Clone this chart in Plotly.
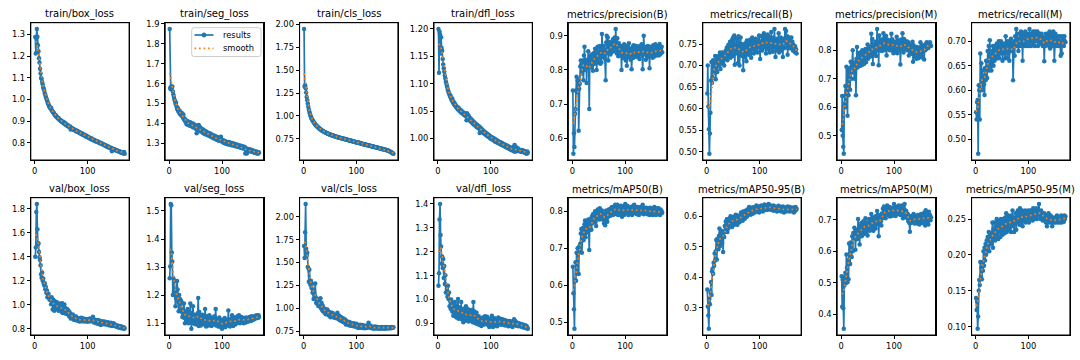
import numpy as np
import plotly.graph_objects as go

# ---------------- data ----------------
titles = ["train/box_loss", "train/seg_loss", "train/cls_loss", "train/dfl_loss",
          "metrics/precision(B)", "metrics/recall(B)", "metrics/precision(M)", "metrics/recall(M)",
          "val/box_loss", "val/seg_loss", "val/cls_loss", "val/dfl_loss",
          "metrics/mAP50(B)", "metrics/mAP50-95(B)", "metrics/mAP50(M)", "metrics/mAP50-95(M)"]
legend_labels = ["results", "smooth"]

train_box_loss = [
 1.288, 1.212, 1.283, 1.325, 1.289, 1.250, 1.222, 1.190, 1.170, 1.142,
 1.120, 1.099, 1.095, 1.080, 1.070, 1.055, 1.048, 1.040, 1.028, 1.022,
 1.012, 1.005, 0.998, 0.991, 0.982, 0.978, 0.970, 0.966, 0.962, 0.958,
 0.962, 0.951, 0.948, 0.944, 0.940, 0.938, 0.932, 0.930, 0.925, 0.927,
 0.921, 0.918, 0.916, 0.913, 0.915, 0.909, 0.906, 0.905, 0.901, 0.903,
 0.899, 0.896, 0.894, 0.897, 0.890, 0.888, 0.893, 0.885, 0.884, 0.886,
 0.880, 0.878, 0.881, 0.876, 0.874, 0.872, 0.875, 0.862, 0.870, 0.866,
 0.868, 0.864, 0.861, 0.863, 0.859, 0.857, 0.860, 0.855, 0.853, 0.856,
 0.851, 0.852, 0.848, 0.850, 0.846, 0.844, 0.847, 0.842, 0.840, 0.843,
 0.838, 0.839, 0.835, 0.837, 0.833, 0.831, 0.834, 0.829, 0.827, 0.830,
 0.825, 0.826, 0.822, 0.824, 0.820, 0.818, 0.821, 0.816, 0.817, 0.814,
 0.815, 0.811, 0.813, 0.809, 0.810, 0.807, 0.808, 0.805, 0.806, 0.803,
 0.804, 0.800, 0.802, 0.798, 0.799, 0.796, 0.797, 0.794, 0.795, 0.791,
 0.792, 0.789, 0.790, 0.786, 0.788, 0.784, 0.785, 0.781, 0.783, 0.779,
 0.780, 0.777, 0.778, 0.775, 0.776, 0.762, 0.773, 0.771, 0.772, 0.769,
 0.770, 0.767, 0.768, 0.765, 0.766, 0.763, 0.764, 0.761, 0.762, 0.759,
 0.760, 0.757, 0.758, 0.755, 0.756, 0.753, 0.754, 0.751, 0.758, 0.750]

train_seg_loss = [
 1.875, 1.578, 1.572, 1.585, 1.580, 1.586, 1.560, 1.545, 1.532, 1.520,
 1.512, 1.498, 1.505, 1.485, 1.472, 1.478, 1.462, 1.468, 1.455, 1.448,
 1.460, 1.445, 1.440, 1.452, 1.438, 1.430, 1.445, 1.420, 1.425, 1.412,
 1.418, 1.405, 1.395, 1.412, 1.402, 1.392, 1.408, 1.398, 1.388, 1.405,
 1.395, 1.385, 1.400, 1.390, 1.380, 1.398, 1.386, 1.378, 1.392, 1.382,
 1.372, 1.350, 1.388, 1.375, 1.368, 1.392, 1.372, 1.362, 1.380, 1.366,
 1.358, 1.372, 1.360, 1.352, 1.368, 1.355, 1.347, 1.362, 1.350, 1.344,
 1.358, 1.346, 1.340, 1.352, 1.342, 1.336, 1.350, 1.338, 1.332, 1.345,
 1.335, 1.328, 1.340, 1.330, 1.324, 1.338, 1.326, 1.320, 1.334, 1.322,
 1.316, 1.330, 1.318, 1.312, 1.328, 1.315, 1.320, 1.332, 1.310, 1.318,
 1.306, 1.315, 1.303, 1.312, 1.300, 1.310, 1.298, 1.308, 1.296, 1.305,
 1.302, 1.294, 1.306, 1.300, 1.292, 1.303, 1.296, 1.290, 1.301, 1.294,
 1.288, 1.298, 1.292, 1.286, 1.295, 1.289, 1.284, 1.293, 1.287, 1.282,
 1.290, 1.284, 1.280, 1.288, 1.282, 1.277, 1.286, 1.280, 1.275, 1.283,
 1.277, 1.272, 1.281, 1.248, 1.274, 1.266, 1.248, 1.272, 1.268, 1.262,
 1.270, 1.265, 1.260, 1.268, 1.262, 1.257, 1.265, 1.259, 1.254, 1.262,
 1.256, 1.251, 1.260, 1.254, 1.249, 1.257, 1.252, 1.247, 1.255, 1.252]

train_cls_loss = [
 1.950, 1.320, 1.335, 1.302, 1.255, 1.205, 1.170, 1.135, 1.100, 1.070,
 1.045, 1.025, 1.005, 0.990, 0.975, 0.962, 0.952, 0.940, 0.932, 0.925,
 0.917, 0.906, 0.903, 0.893, 0.891, 0.881, 0.879, 0.870, 0.869, 0.860,
 0.860, 0.851, 0.849, 0.843, 0.841, 0.834, 0.834, 0.828, 0.827, 0.821,
 0.822, 0.815, 0.815, 0.810, 0.810, 0.804, 0.805, 0.799, 0.800, 0.795,
 0.796, 0.790, 0.791, 0.786, 0.787, 0.782, 0.783, 0.778, 0.779, 0.774,
 0.775, 0.770, 0.772, 0.767, 0.768, 0.763, 0.765, 0.760, 0.761, 0.757,
 0.758, 0.753, 0.755, 0.750, 0.752, 0.747, 0.749, 0.744, 0.746, 0.741,
 0.742, 0.738, 0.739, 0.735, 0.736, 0.732, 0.733, 0.729, 0.730, 0.726,
 0.727, 0.722, 0.724, 0.719, 0.721, 0.716, 0.718, 0.713, 0.715, 0.710,
 0.711, 0.708, 0.710, 0.705, 0.703, 0.705, 0.700, 0.699, 0.697, 0.698,
 0.694, 0.693, 0.691, 0.692, 0.688, 0.687, 0.685, 0.686, 0.682, 0.681,
 0.680, 0.678, 0.679, 0.675, 0.674, 0.672, 0.673, 0.669, 0.668, 0.666,
 0.667, 0.663, 0.662, 0.660, 0.661, 0.657, 0.656, 0.654, 0.655, 0.651,
 0.650, 0.648, 0.649, 0.645, 0.644, 0.642, 0.643, 0.639, 0.638, 0.636,
 0.637, 0.633, 0.632, 0.630, 0.631, 0.627, 0.626, 0.624, 0.622, 0.620,
 0.618, 0.615, 0.612, 0.609, 0.606, 0.602, 0.598, 0.594, 0.590, 0.586]

train_dfl_loss = [
 1.200, 1.120, 1.195, 1.190, 1.155, 1.185, 1.165, 1.160, 1.145, 1.135,
 1.128, 1.122, 1.115, 1.110, 1.104, 1.100, 1.096, 1.092, 1.088, 1.085,
 1.082, 1.080, 1.076, 1.078, 1.072, 1.070, 1.073, 1.066, 1.068, 1.063,
 1.065, 1.060, 1.062, 1.058, 1.059, 1.055, 1.057, 1.053, 1.056, 1.051,
 1.053, 1.049, 1.052, 1.047, 1.050, 1.046, 1.048, 1.044, 1.047, 1.043,
 1.045, 1.041, 1.044, 1.033, 1.046, 1.040, 1.036, 1.042, 1.034, 1.038,
 1.032, 1.036, 1.030, 1.034, 1.028, 1.032, 1.026, 1.030, 1.025, 1.028,
 1.023, 1.026, 1.021, 1.025, 1.020, 1.023, 1.018, 1.022, 1.010, 1.020,
 1.015, 1.018, 1.013, 1.016, 1.011, 1.014, 1.009, 1.012, 1.008, 1.011,
 1.006, 1.009, 1.005, 1.008, 1.003, 1.006, 1.002, 1.005, 1.000, 1.003,
 0.999, 1.002, 0.998, 1.001, 0.997, 1.000, 0.995, 0.999, 0.994, 0.997,
 0.993, 0.996, 0.992, 0.995, 0.991, 0.994, 0.990, 0.993, 0.989, 0.992,
 0.988, 0.991, 0.987, 0.990, 0.986, 0.989, 0.985, 0.988, 0.984, 0.987,
 0.983, 0.986, 0.982, 0.985, 0.981, 0.984, 0.980, 0.983, 0.979, 0.982,
 0.978, 0.981, 0.985, 0.976, 0.988, 0.980, 0.976, 0.984, 0.979, 0.977,
 0.982, 0.978, 0.980, 0.977, 0.979, 0.976, 0.978, 0.975, 0.979, 0.976,
 0.978, 0.975, 0.977, 0.974, 0.976, 0.973, 0.975, 0.972, 0.976, 0.974]

precision_B = [
 0.740, 0.555, 0.615, 0.575, 0.672, 0.685, 0.740, 0.780, 0.735, 0.770,
 0.772, 0.622, 0.745, 0.760, 0.810, 0.828, 0.815, 0.790, 0.812, 0.828,
 0.770, 0.842, 0.868, 0.800, 0.805, 0.830, 0.762, 0.820, 0.810, 0.855,
 0.818, 0.686, 0.840, 0.808, 0.832, 0.845, 0.812, 0.828, 0.798, 0.835,
 0.850, 0.818, 0.862, 0.825, 0.858, 0.800, 0.840, 0.868, 0.822, 0.852,
 0.835, 0.870, 0.818, 0.850, 0.822, 0.905, 0.862, 0.838, 0.870, 0.845,
 0.858, 0.832, 0.770, 0.880, 0.900, 0.850, 0.895, 0.828, 0.878, 0.860,
 0.882, 0.845, 0.870, 0.852, 0.878, 0.862, 0.890, 0.855, 0.872, 0.895,
 0.862, 0.920, 0.880, 0.848, 0.893, 0.868, 0.840, 0.878, 0.855, 0.870,
 0.842, 0.868, 0.800, 0.862, 0.870, 0.835, 0.858, 0.875, 0.840, 0.860,
 0.828, 0.870, 0.812, 0.855, 0.865, 0.838, 0.878, 0.845, 0.862, 0.830,
 0.858, 0.802, 0.848, 0.868, 0.835, 0.872, 0.850, 0.840, 0.865, 0.845,
 0.870, 0.838, 0.858, 0.845, 0.845, 0.862, 0.832, 0.870, 0.848, 0.858,
 0.875, 0.842, 0.802, 0.850, 0.900, 0.862, 0.845, 0.858, 0.830, 0.868,
 0.852, 0.838, 0.870, 0.848, 0.860, 0.805, 0.855, 0.842, 0.868, 0.850,
 0.862, 0.836, 0.872, 0.845, 0.858, 0.840, 0.875, 0.850, 0.845, 0.862,
 0.848, 0.870, 0.842, 0.858, 0.876, 0.845, 0.862, 0.850, 0.868, 0.852]

recall_B = [
 0.635, 0.700, 0.605, 0.552, 0.495, 0.542, 0.590, 0.665, 0.708, 0.660,
 0.672, 0.712, 0.682, 0.695, 0.705, 0.722, 0.668, 0.700, 0.712, 0.685,
 0.718, 0.722, 0.700, 0.712, 0.730, 0.692, 0.718, 0.728, 0.705, 0.730,
 0.712, 0.725, 0.700, 0.728, 0.715, 0.735, 0.720, 0.742, 0.712, 0.735,
 0.748, 0.722, 0.740, 0.755, 0.718, 0.745, 0.728, 0.760, 0.722, 0.765,
 0.740, 0.770, 0.702, 0.748, 0.728, 0.762, 0.735, 0.752, 0.705, 0.768,
 0.742, 0.700, 0.745, 0.765, 0.728, 0.750, 0.722, 0.740, 0.689, 0.735,
 0.748, 0.720, 0.752, 0.735, 0.710, 0.758, 0.738, 0.745, 0.725, 0.755,
 0.732, 0.760, 0.742, 0.718, 0.752, 0.765, 0.738, 0.748, 0.728, 0.760,
 0.745, 0.735, 0.762, 0.740, 0.752, 0.730, 0.758, 0.745, 0.770, 0.750,
 0.715, 0.755, 0.740, 0.768, 0.735, 0.760, 0.748, 0.775, 0.742, 0.762,
 0.770, 0.728, 0.755, 0.745, 0.772, 0.738, 0.768, 0.750, 0.730, 0.762,
 0.745, 0.778, 0.740, 0.758, 0.732, 0.765, 0.750, 0.785, 0.742, 0.720,
 0.758, 0.740, 0.762, 0.735, 0.748, 0.775, 0.730, 0.755, 0.742, 0.765,
 0.735, 0.758, 0.745, 0.720, 0.762, 0.740, 0.752, 0.785, 0.760, 0.780,
 0.742, 0.768, 0.725, 0.755, 0.745, 0.765, 0.740, 0.758, 0.750, 0.765,
 0.745, 0.755, 0.735, 0.748, 0.740, 0.732, 0.745, 0.730, 0.738, 0.728]

precision_M = [
 0.520, 0.640, 0.500, 0.462, 0.437, 0.612, 0.640, 0.675, 0.600, 0.742,
 0.660, 0.570, 0.730, 0.642, 0.700, 0.738, 0.662, 0.760, 0.700, 0.728,
 0.745, 0.800, 0.722, 0.752, 0.700, 0.742, 0.758, 0.642, 0.770, 0.812,
 0.740, 0.790, 0.752, 0.778, 0.745, 0.792, 0.760, 0.782, 0.748, 0.800,
 0.768, 0.795, 0.752, 0.788, 0.770, 0.805, 0.758, 0.792, 0.775, 0.820,
 0.770, 0.800, 0.782, 0.812, 0.778, 0.795, 0.858, 0.780, 0.840, 0.752,
 0.820, 0.785, 0.810, 0.795, 0.830, 0.780, 0.812, 0.875, 0.800, 0.825,
 0.748, 0.852, 0.800, 0.830, 0.812, 0.838, 0.798, 0.825, 0.805, 0.860,
 0.818, 0.842, 0.800, 0.828, 0.850, 0.782, 0.838, 0.815, 0.830, 0.805,
 0.822, 0.800, 0.835, 0.812, 0.858, 0.800, 0.838, 0.815, 0.790, 0.825,
 0.808, 0.830, 0.795, 0.820, 0.848, 0.790, 0.828, 0.812, 0.835, 0.800,
 0.825, 0.750, 0.820, 0.838, 0.805, 0.860, 0.820, 0.792, 0.840, 0.815,
 0.828, 0.805, 0.815, 0.832, 0.800, 0.818, 0.828, 0.782, 0.808, 0.820,
 0.795, 0.812, 0.788, 0.805, 0.830, 0.760, 0.818, 0.795, 0.808, 0.780,
 0.800, 0.770, 0.812, 0.790, 0.805, 0.772, 0.810, 0.788, 0.800, 0.828,
 0.782, 0.802, 0.775, 0.818, 0.795, 0.808, 0.768, 0.812, 0.800, 0.822,
 0.805, 0.828, 0.812, 0.820, 0.808, 0.825, 0.815, 0.828, 0.818, 0.815]

recall_M = [
 0.555, 0.540, 0.575, 0.580, 0.470, 0.610, 0.600, 0.540, 0.675, 0.600,
 0.655, 0.620, 0.640, 0.600, 0.630, 0.612, 0.590, 0.645, 0.620, 0.660,
 0.640, 0.625, 0.680, 0.650, 0.690, 0.640, 0.702, 0.650, 0.665, 0.640,
 0.672, 0.680, 0.690, 0.650, 0.685, 0.660, 0.672, 0.690, 0.665, 0.695,
 0.665, 0.690, 0.672, 0.700, 0.665, 0.690, 0.680, 0.700, 0.675, 0.690,
 0.660, 0.695, 0.680, 0.675, 0.695, 0.665, 0.710, 0.680, 0.695, 0.665,
 0.700, 0.675, 0.690, 0.660, 0.700, 0.685, 0.705, 0.680, 0.695, 0.690,
 0.620, 0.690, 0.700, 0.670, 0.710, 0.690, 0.725, 0.690, 0.715, 0.700,
 0.680, 0.705, 0.690, 0.715, 0.695, 0.720, 0.690, 0.705, 0.660, 0.715,
 0.695, 0.710, 0.690, 0.720, 0.700, 0.710, 0.690, 0.715, 0.700, 0.708,
 0.690, 0.725, 0.700, 0.715, 0.690, 0.710, 0.715, 0.695, 0.720, 0.700,
 0.715, 0.690, 0.720, 0.705, 0.715, 0.700, 0.720, 0.690, 0.715, 0.705,
 0.700, 0.715, 0.695, 0.710, 0.715, 0.700, 0.690, 0.708, 0.695, 0.659,
 0.705, 0.690, 0.715, 0.700, 0.710, 0.695, 0.715, 0.700, 0.690, 0.720,
 0.685, 0.710, 0.695, 0.715, 0.700, 0.690, 0.720, 0.705, 0.660, 0.700,
 0.715, 0.690, 0.705, 0.710, 0.695, 0.705, 0.690, 0.700, 0.710, 0.695,
 0.670, 0.700, 0.675, 0.710, 0.695, 0.705, 0.690, 0.710, 0.700, 0.698]

val_box_loss = [
 1.400, 1.478, 1.772, 1.840, 1.630, 1.505, 1.512, 1.440, 1.395, 1.372,
 1.330, 1.255, 1.225, 1.268, 1.200, 1.218, 1.178, 1.160, 1.180, 1.130,
 1.148, 1.100, 1.118, 1.062, 1.085, 1.092, 1.060, 1.042, 1.055, 1.050,
 1.005, 1.062, 1.030, 0.960, 1.042, 1.010, 0.950, 1.030, 0.982, 1.012,
 0.962, 1.020, 0.985, 1.002, 0.950, 0.992, 0.972, 1.010, 0.958, 0.985,
 0.940, 1.012, 0.932, 0.982, 0.960, 1.002, 0.940, 0.972, 0.925, 0.955,
 0.930, 0.962, 0.920, 0.948, 0.905, 0.938, 0.920, 0.885, 0.912, 0.900,
 0.890, 0.918, 0.880, 0.905, 0.872, 0.895, 0.880, 0.902, 0.870, 0.890,
 0.880, 0.865, 0.888, 0.872, 0.860, 0.882, 0.870, 0.892, 0.862, 0.878,
 0.868, 0.885, 0.860, 0.878, 0.870, 0.882, 0.865, 0.876, 0.858, 0.880,
 0.868, 0.872, 0.860, 0.885, 0.870, 0.878, 0.862, 0.882, 0.868, 0.900,
 0.875, 0.852, 0.878, 0.862, 0.870, 0.845, 0.868, 0.858, 0.872, 0.840,
 0.862, 0.868, 0.850, 0.858, 0.832, 0.855, 0.862, 0.845, 0.858, 0.850,
 0.838, 0.860, 0.845, 0.852, 0.835, 0.848, 0.840, 0.855, 0.832, 0.850,
 0.838, 0.828, 0.845, 0.850, 0.832, 0.822, 0.840, 0.830, 0.845, 0.825,
 0.838, 0.822, 0.830, 0.818, 0.828, 0.815, 0.825, 0.812, 0.822, 0.808,
 0.818, 0.812, 0.820, 0.805, 0.815, 0.808, 0.812, 0.800, 0.810, 0.802]

val_seg_loss = [
 1.260, 1.302, 1.525, 1.520, 1.352, 1.320, 1.200, 1.260, 1.212, 1.250,
 1.205, 1.160, 1.190, 1.215, 1.250, 1.220, 1.175, 1.142, 1.200, 1.168,
 1.185, 1.150, 1.178, 1.140, 1.122, 1.145, 1.135, 1.170, 1.118, 1.100,
 1.132, 1.115, 1.142, 1.108, 1.150, 1.125, 1.100, 1.138, 1.112, 1.170,
 1.120, 1.080, 1.135, 1.105, 1.160, 1.118, 1.098, 1.130, 1.105, 1.125,
 1.095, 1.120, 1.108, 1.135, 1.190, 1.090, 1.140, 1.102, 1.125, 1.092,
 1.118, 1.105, 1.130, 1.098, 1.122, 1.110, 1.095, 1.150, 1.105, 1.088,
 1.125, 1.102, 1.118, 1.092, 1.112, 1.128, 1.098, 1.115, 1.105, 1.090,
 1.120, 1.100, 1.112, 1.095, 1.108, 1.125, 1.100, 1.150, 1.092, 1.110,
 1.098, 1.115, 1.088, 1.105, 1.120, 1.095, 1.110, 1.085, 1.100, 1.080,
 1.112, 1.090, 1.105, 1.095, 1.118, 1.085, 1.108, 1.098, 1.112, 1.092,
 1.100, 1.145, 1.095, 1.110, 1.088, 1.105, 1.115, 1.095, 1.128, 1.100,
 1.090, 1.112, 1.100, 1.120, 1.095, 1.108, 1.115, 1.100, 1.125, 1.110,
 1.105, 1.128, 1.112, 1.100, 1.118, 1.108, 1.122, 1.105, 1.115, 1.110,
 1.100, 1.118, 1.108, 1.112, 1.102, 1.120, 1.110, 1.115, 1.105, 1.118,
 1.110, 1.122, 1.112, 1.118, 1.108, 1.125, 1.115, 1.120, 1.112, 1.118,
 1.125, 1.115, 1.122, 1.118, 1.128, 1.120, 1.125, 1.118, 1.128, 1.122]

val_cls_loss = [
 1.680, 1.550, 1.830, 2.140, 1.650, 1.580, 1.610, 1.450, 1.440, 1.290,
 1.420, 1.280, 1.255, 1.300, 1.220, 1.268, 1.170, 1.200, 1.100, 1.180,
 1.140, 1.270, 1.120, 1.060, 1.050, 1.100, 1.068, 1.025, 1.080, 1.040,
 1.020, 1.110, 1.000, 1.060, 0.980, 1.030, 0.965, 1.000, 0.975, 0.950,
 0.990, 0.935, 0.972, 0.948, 0.985, 0.930, 0.962, 0.920, 0.958, 0.940,
 0.902, 0.935, 0.950, 0.915, 0.948, 0.910, 0.930, 0.895, 0.925, 0.905,
 0.918, 0.890, 0.912, 0.950, 0.900, 0.882, 0.920, 0.872, 0.895, 0.905,
 0.860, 0.885, 0.870, 0.892, 0.848, 0.872, 0.858, 0.880, 0.835, 0.822,
 0.862, 0.830, 0.852, 0.818, 0.845, 0.825, 0.850, 0.808, 0.838, 0.815,
 0.832, 0.805, 0.828, 0.812, 0.835, 0.800, 0.822, 0.805, 0.818, 0.830,
 0.792, 0.815, 0.800, 0.782, 0.812, 0.795, 0.820, 0.785, 0.805, 0.790,
 0.815, 0.782, 0.800, 0.788, 0.810, 0.780, 0.798, 0.790, 0.805, 0.782,
 0.795, 0.815, 0.842, 0.808, 0.790, 0.812, 0.785, 0.800, 0.780, 0.795,
 0.782, 0.798, 0.776, 0.792, 0.785, 0.800, 0.778, 0.790, 0.782, 0.795,
 0.778, 0.792, 0.780, 0.788, 0.775, 0.790, 0.782, 0.795, 0.778, 0.788,
 0.780, 0.792, 0.776, 0.788, 0.782, 0.795, 0.778, 0.790, 0.783, 0.788,
 0.778, 0.792, 0.782, 0.786, 0.780, 0.795, 0.782, 0.790, 0.785, 0.792]

val_dfl_loss = [
 1.058, 1.110, 1.335, 1.400, 1.270, 1.222, 1.150, 1.180, 1.132, 1.170,
 1.090, 1.140, 1.065, 1.102, 1.030, 1.060, 1.045, 1.012, 1.058, 1.002,
 1.030, 0.972, 0.995, 0.962, 1.000, 0.972, 0.950, 0.985, 0.932, 0.962,
 0.945, 0.990, 0.930, 0.962, 0.925, 0.975, 0.942, 1.002, 0.920, 0.968,
 0.938, 0.960, 0.928, 0.990, 0.918, 0.958, 0.940, 0.905, 0.962, 0.930,
 0.948, 0.912, 0.972, 0.925, 0.952, 0.918, 0.960, 0.908, 0.945, 0.922,
 0.955, 0.912, 0.940, 0.918, 0.958, 0.905, 0.990, 0.928, 0.950, 0.902,
 0.935, 0.915, 0.945, 0.898, 0.922, 0.912, 0.930, 0.895, 0.918, 0.908,
 0.922, 0.890, 0.915, 0.905, 0.925, 0.895, 0.912, 0.902, 0.930, 0.898,
 0.915, 0.905, 0.928, 0.895, 0.918, 0.908, 0.885, 0.920, 0.900, 0.912,
 0.892, 0.932, 0.905, 0.885, 0.915, 0.900, 0.922, 0.892, 0.910, 0.902,
 0.918, 0.888, 0.908, 0.925, 0.898, 0.915, 0.905, 0.920, 0.895, 0.912,
 0.902, 0.918, 0.895, 0.910, 0.900, 0.915, 0.892, 0.908, 0.898, 0.912,
 0.895, 0.905, 0.888, 0.902, 0.910, 0.895, 0.905, 0.890, 0.908, 0.898,
 0.885, 0.902, 0.895, 0.918, 0.900, 0.910, 0.892, 0.905, 0.898, 0.890,
 0.902, 0.895, 0.888, 0.900, 0.892, 0.895, 0.888, 0.898, 0.885, 0.892,
 0.888, 0.895, 0.882, 0.890, 0.885, 0.892, 0.880, 0.888, 0.882, 0.878]

mAP50_B = [
 0.650, 0.578, 0.535, 0.482, 0.612, 0.662, 0.612, 0.688, 0.642, 0.700,
 0.688, 0.630, 0.705, 0.690, 0.712, 0.740, 0.752, 0.688, 0.748, 0.755,
 0.722, 0.740, 0.765, 0.775, 0.730, 0.758, 0.742, 0.772, 0.752, 0.778,
 0.748, 0.695, 0.770, 0.758, 0.780, 0.750, 0.785, 0.768, 0.792, 0.772,
 0.790, 0.778, 0.800, 0.772, 0.760, 0.795, 0.782, 0.805, 0.788, 0.805,
 0.778, 0.808, 0.790, 0.800, 0.785, 0.802, 0.778, 0.795, 0.788, 0.768,
 0.790, 0.762, 0.792, 0.802, 0.780, 0.772, 0.798, 0.785, 0.805, 0.792,
 0.800, 0.788, 0.808, 0.795, 0.812, 0.800, 0.790, 0.808, 0.798, 0.812,
 0.818, 0.802, 0.812, 0.792, 0.818, 0.800, 0.790, 0.812, 0.798, 0.808,
 0.795, 0.815, 0.800, 0.785, 0.810, 0.798, 0.808, 0.790, 0.815, 0.820,
 0.800, 0.810, 0.795, 0.815, 0.802, 0.790, 0.812, 0.798, 0.808, 0.795,
 0.812, 0.800, 0.790, 0.808, 0.815, 0.798, 0.818, 0.805, 0.795, 0.810,
 0.800, 0.792, 0.812, 0.798, 0.808, 0.790, 0.805, 0.800, 0.812, 0.795,
 0.808, 0.800, 0.818, 0.802, 0.792, 0.810, 0.798, 0.805, 0.795, 0.810,
 0.800, 0.792, 0.808, 0.798, 0.805, 0.790, 0.810, 0.800, 0.795, 0.808,
 0.798, 0.790, 0.805, 0.800, 0.812, 0.795, 0.802, 0.790, 0.808, 0.798,
 0.802, 0.792, 0.808, 0.798, 0.800, 0.790, 0.805, 0.795, 0.800, 0.796]

mAP50_95_B = [
 0.360, 0.305, 0.275, 0.232, 0.330, 0.312, 0.352, 0.385, 0.342, 0.420,
 0.428, 0.412, 0.448, 0.438, 0.478, 0.455, 0.485, 0.522, 0.458, 0.525,
 0.510, 0.492, 0.535, 0.560, 0.502, 0.542, 0.528, 0.552, 0.512, 0.545,
 0.483, 0.550, 0.532, 0.568, 0.548, 0.582, 0.555, 0.590, 0.548, 0.578,
 0.560, 0.592, 0.570, 0.585, 0.600, 0.572, 0.592, 0.565, 0.595, 0.578,
 0.598, 0.572, 0.590, 0.580, 0.605, 0.578, 0.600, 0.572, 0.595, 0.585,
 0.602, 0.580, 0.598, 0.588, 0.612, 0.590, 0.605, 0.585, 0.615, 0.595,
 0.608, 0.592, 0.618, 0.600, 0.612, 0.598, 0.622, 0.605, 0.615, 0.630,
 0.610, 0.625, 0.605, 0.620, 0.612, 0.628, 0.608, 0.622, 0.615, 0.630,
 0.612, 0.625, 0.618, 0.635, 0.615, 0.628, 0.620, 0.632, 0.612, 0.625,
 0.630, 0.618, 0.635, 0.622, 0.628, 0.615, 0.632, 0.625, 0.638, 0.620,
 0.632, 0.625, 0.636, 0.620, 0.630, 0.625, 0.640, 0.628, 0.622, 0.635,
 0.625, 0.632, 0.620, 0.630, 0.625, 0.635, 0.618, 0.628, 0.622, 0.632,
 0.620, 0.628, 0.615, 0.630, 0.622, 0.634, 0.618, 0.626, 0.620, 0.630,
 0.615, 0.625, 0.618, 0.632, 0.620, 0.612, 0.628, 0.618, 0.625, 0.615,
 0.628, 0.620, 0.632, 0.618, 0.625, 0.615, 0.630, 0.620, 0.626, 0.618,
 0.625, 0.615, 0.628, 0.620, 0.612, 0.626, 0.618, 0.630, 0.620, 0.624]

mAP50_M = [
 0.521, 0.425, 0.510, 0.420, 0.355, 0.492, 0.520, 0.532, 0.500, 0.590,
 0.548, 0.502, 0.572, 0.512, 0.625, 0.590, 0.560, 0.628, 0.615, 0.582,
 0.648, 0.600, 0.658, 0.640, 0.675, 0.660, 0.605, 0.650, 0.638, 0.668,
 0.640, 0.702, 0.645, 0.672, 0.622, 0.680, 0.660, 0.690, 0.648, 0.682,
 0.668, 0.695, 0.655, 0.688, 0.670, 0.705, 0.662, 0.690, 0.675, 0.650,
 0.692, 0.672, 0.702, 0.665, 0.695, 0.680, 0.718, 0.670, 0.702, 0.688,
 0.665, 0.708, 0.680, 0.700, 0.672, 0.712, 0.685, 0.728, 0.695, 0.715,
 0.648, 0.700, 0.688, 0.712, 0.695, 0.682, 0.720, 0.705, 0.735, 0.712,
 0.742, 0.718, 0.730, 0.705, 0.738, 0.722, 0.745, 0.715, 0.732, 0.725,
 0.740, 0.710, 0.735, 0.722, 0.738, 0.712, 0.728, 0.735, 0.718, 0.750,
 0.728, 0.740, 0.712, 0.735, 0.725, 0.742, 0.718, 0.732, 0.745, 0.722,
 0.738, 0.715, 0.730, 0.722, 0.745, 0.720, 0.705, 0.735, 0.728, 0.750,
 0.730, 0.712, 0.728, 0.720, 0.705, 0.718, 0.695, 0.712, 0.690, 0.662,
 0.705, 0.690, 0.712, 0.698, 0.708, 0.692, 0.718, 0.700, 0.688, 0.710,
 0.695, 0.712, 0.700, 0.688, 0.715, 0.698, 0.705, 0.685, 0.712, 0.700,
 0.718, 0.695, 0.708, 0.690, 0.712, 0.700, 0.722, 0.705, 0.682, 0.730,
 0.702, 0.718, 0.690, 0.712, 0.685, 0.725, 0.700, 0.715, 0.698, 0.708]

mAP50_95_M = [
 0.140, 0.123, 0.135, 0.097, 0.114, 0.150, 0.165, 0.158, 0.190, 0.170,
 0.182, 0.166, 0.190, 0.178, 0.205, 0.185, 0.210, 0.192, 0.215, 0.200,
 0.220, 0.205, 0.225, 0.212, 0.232, 0.205, 0.225, 0.215, 0.230, 0.218,
 0.228, 0.245, 0.210, 0.235, 0.222, 0.245, 0.220, 0.238, 0.225, 0.250,
 0.230, 0.242, 0.222, 0.248, 0.232, 0.245, 0.225, 0.250, 0.235, 0.242,
 0.228, 0.250, 0.235, 0.245, 0.230, 0.252, 0.238, 0.258, 0.232, 0.248,
 0.240, 0.255, 0.235, 0.250, 0.242, 0.248, 0.232, 0.255, 0.245, 0.262,
 0.240, 0.252, 0.232, 0.250, 0.245, 0.258, 0.235, 0.252, 0.245, 0.262,
 0.248, 0.255, 0.242, 0.265, 0.250, 0.258, 0.245, 0.262, 0.240, 0.255,
 0.248, 0.258, 0.250, 0.262, 0.245, 0.255, 0.250, 0.260, 0.248, 0.262,
 0.245, 0.258, 0.252, 0.262, 0.250, 0.255, 0.260, 0.248, 0.265, 0.252,
 0.258, 0.250, 0.262, 0.255, 0.265, 0.250, 0.260, 0.255, 0.258, 0.271,
 0.255, 0.260, 0.250, 0.262, 0.255, 0.258, 0.248, 0.255, 0.252, 0.258,
 0.250, 0.255, 0.245, 0.252, 0.240, 0.255, 0.250, 0.258, 0.245, 0.252,
 0.248, 0.255, 0.245, 0.250, 0.240, 0.248, 0.252, 0.245, 0.250, 0.248,
 0.245, 0.252, 0.248, 0.255, 0.245, 0.250, 0.248, 0.252, 0.245, 0.250,
 0.248, 0.255, 0.245, 0.252, 0.248, 0.250, 0.246, 0.255, 0.250, 0.254]

series = [train_box_loss, train_seg_loss, train_cls_loss, train_dfl_loss,
          precision_B, recall_B, precision_M, recall_M,
          val_box_loss, val_seg_loss, val_cls_loss, val_dfl_loss,
          mAP50_B, mAP50_95_B, mAP50_M, mAP50_95_M]

y_tick_labels = [
    ["0.8", "0.9", "1.0", "1.1", "1.2", "1.3"],
    ["1.3", "1.4", "1.5", "1.6", "1.7", "1.8", "1.9"],
    ["0.75", "1.00", "1.25", "1.50", "1.75", "2.00"],
    ["1.00", "1.05", "1.10", "1.15", "1.20"],
    ["0.6", "0.7", "0.8", "0.9"],
    ["0.50", "0.55", "0.60", "0.65", "0.70", "0.75", "0.80"],
    ["0.5", "0.6", "0.7", "0.8"],
    ["0.50", "0.55", "0.60", "0.65", "0.70"],
    ["0.8", "1.0", "1.2", "1.4", "1.6", "1.8"],
    ["1.1", "1.2", "1.3", "1.4", "1.5"],
    ["0.75", "1.00", "1.25", "1.50", "1.75", "2.00"],
    ["0.9", "1.0", "1.1", "1.2", "1.3", "1.4"],
    ["0.5", "0.6", "0.7", "0.8"],
    ["0.3", "0.4", "0.5", "0.6"],
    ["0.4", "0.5", "0.6", "0.7"],
    ["0.10", "0.15", "0.20", "0.25"],
]
x_tick_labels = ["0", "100"]


def gaussian_smooth(y, sigma=3.0):
    y = np.asarray(y, dtype=float)
    r = int(4 * sigma + 0.5)
    k = np.exp(-0.5 * (np.arange(-r, r + 1) / sigma) ** 2)
    k /= k.sum()
    yp = np.pad(y, r, mode="symmetric")
    return np.convolve(yp, k, mode="valid")


# ---------------- layout geometry (pixels) ----------------
W, H = 1080, 360
col_left0, col_step, ax_w = 30.8, 134.4, 98.3
row_px = [(22.7, 160.0), (197.7, 335.0)]
FONT = "DejaVu Sans"
BLUE = "#1f77b4"
ORANGE = "#ff7f0e"
DOTS = "1.7px,2.8px"


def px(xp):
    return xp / W


def py(yp):
    return 1 - yp / H


fig = go.Figure()
shapes, annotations = [], []
layout = dict(
    width=W, height=H,
    margin=dict(l=0, r=0, t=0, b=0, pad=0),
    paper_bgcolor="white", plot_bgcolor="white",
    font=dict(family=FONT, size=8.3, color="black"),
    showlegend=False,
)

for i, (title, y) in enumerate(zip(titles, series)):
    r, c = divmod(i, 8)
    x = list(range(1, len(y) + 1))
    ys = gaussian_smooth(y)
    xa = "x" if i == 0 else f"x{i + 1}"
    ya = "y" if i == 0 else f"y{i + 1}"
    fig.add_trace(go.Scatter(
        x=x, y=y, xaxis=xa, yaxis=ya, mode="lines+markers", name=legend_labels[0],
        line=dict(color=BLUE, width=1.7), marker=dict(color=BLUE, size=4.5)))
    fig.add_trace(go.Scatter(
        x=x, y=ys, xaxis=xa, yaxis=ya, mode="lines", name=legend_labels[1],
        line=dict(color=ORANGE, width=1.7, dash=DOTS)))

    left = col_left0 + c * col_step
    top, bottom = row_px[r]
    xmin, xmax = 1, len(y)
    xm = 0.05 * (xmax - xmin)
    allv = np.concatenate([np.asarray(y, float), ys])
    ymin, ymax = allv.min(), allv.max()
    ym = 0.05 * (ymax - ymin)
    tl = y_tick_labels[i]
    axis_common = dict(
        showline=True, mirror=True, linecolor="black", linewidth=1,
        ticks="outside", ticklen=3, tickwidth=1, tickcolor="black",
        showgrid=False, zeroline=False, automargin=False,
        tickfont=dict(family=FONT, size=8.3, color="black"),
    )
    layout["xaxis" if i == 0 else f"xaxis{i + 1}"] = dict(
        axis_common, domain=[px(left), px(left + ax_w)], anchor=ya,
        range=[xmin - xm, xmax + xm],
        tickmode="array", tickvals=[float(v) for v in x_tick_labels], ticktext=x_tick_labels)
    layout["yaxis" if i == 0 else f"yaxis{i + 1}"] = dict(
        axis_common, domain=[py(bottom), py(top)], anchor=xa,
        range=[ymin - ym, ymax + ym],
        tickmode="array", tickvals=[float(v) for v in tl], ticktext=tl)
    # axes frame
    shapes.append(dict(type="rect", xref=f"{xa} domain", yref=f"{ya} domain",
                       x0=0, x1=1, y0=0, y1=1, layer="above",
                       line=dict(color="black", width=1), fillcolor="rgba(0,0,0,0)"))
    annotations.append(dict(
        text=title, x=px(left + ax_w / 2), y=py(top), xref="paper", yref="paper",
        xanchor="center", yanchor="bottom", yshift=1, showarrow=False,
        font=dict(family=FONT, size=10, color="black")))

# ---- legend drawn inside the train/seg_loss panel (upper right) ----
lx0, lx1, ly0, ly1, rad = 191.7, 261.0, 27.7, 56.5, 2.5
path = (f"M {px(lx0 + rad)},{py(ly0)} L {px(lx1 - rad)},{py(ly0)} "
        f"Q {px(lx1)},{py(ly0)} {px(lx1)},{py(ly0 + rad)} "
        f"L {px(lx1)},{py(ly1 - rad)} Q {px(lx1)},{py(ly1)} {px(lx1 - rad)},{py(ly1)} "
        f"L {px(lx0 + rad)},{py(ly1)} Q {px(lx0)},{py(ly1)} {px(lx0)},{py(ly1 - rad)} "
        f"L {px(lx0)},{py(ly0 + rad)} Q {px(lx0)},{py(ly0)} {px(lx0 + rad)},{py(ly0)} Z")
shapes.append(dict(type="path", path=path, xref="paper", yref="paper", layer="above",
                   line=dict(color="#cccccc", width=1), fillcolor="rgba(255,255,255,0.8)"))
rows_y = [35.0, 48.3]
hx0, hx1 = 194.5, 213.5
shapes.append(dict(type="line", xref="paper", yref="paper", layer="above",
                   x0=px(hx0), x1=px(hx1), y0=py(rows_y[0]), y1=py(rows_y[0]),
                   line=dict(color=BLUE, width=1.7)))
mr = 2.2
mcx = (hx0 + hx1) / 2
shapes.append(dict(type="circle", xref="paper", yref="paper", layer="above",
                   x0=px(mcx - mr), x1=px(mcx + mr), y0=py(rows_y[0] + mr), y1=py(rows_y[0] - mr),
                   line=dict(color=BLUE, width=0.5), fillcolor=BLUE))
shapes.append(dict(type="line", xref="paper", yref="paper", layer="above",
                   x0=px(hx0), x1=px(hx1), y0=py(rows_y[1]), y1=py(rows_y[1]),
                   line=dict(color=ORANGE, width=1.7, dash=DOTS)))
for lab, yy in zip(legend_labels, rows_y):
    annotations.append(dict(
        text=lab, x=px(220.5), y=py(yy), xref="paper", yref="paper",
        xanchor="left", yanchor="middle", showarrow=False,
        font=dict(family=FONT, size=8.3, color="black")))

layout["shapes"] = shapes
layout["annotations"] = annotations
fig.update_layout(**layout)
fig.write_html("out.html", config={"displayModeBar": False},
               post_script="document.body.style.margin='0';document.body.style.overflow='hidden';")
